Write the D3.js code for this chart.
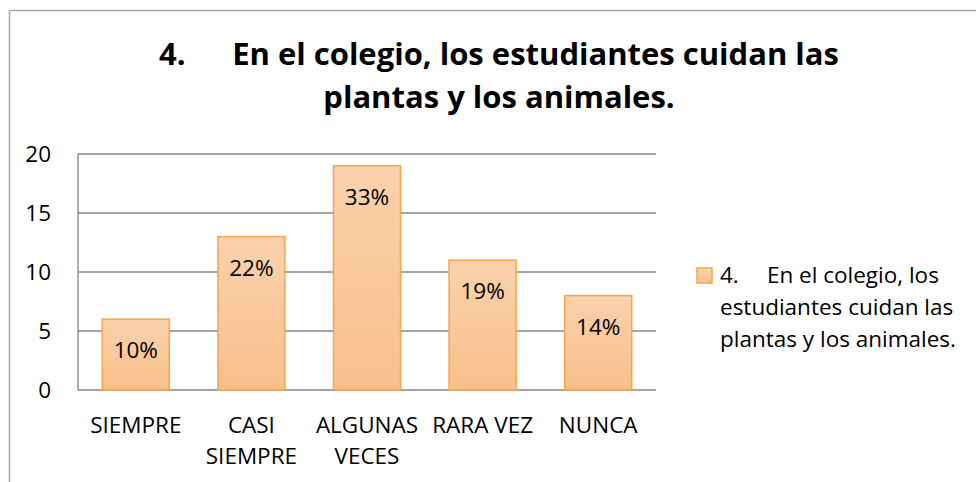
<!DOCTYPE html>
<meta charset="utf-8">
<style>
body { margin: 0; background: #fff; }
text { font-family: "Open Sans", sans-serif; fill: #000; }
.grid line { stroke: #868686; stroke-width: 1.3px; }
.bar { stroke: #f7a54c; stroke-width: 1.5px; }
</style>
<svg width="976" height="482"></svg>
<script src="https://cdn.jsdelivr.net/npm/d3@7/dist/d3.min.js"></script>
<script>

var categories = [["SIEMPRE"], ["CASI", "SIEMPRE"], ["ALGUNAS", "VECES"], ["RARA VEZ"], ["NUNCA"]];
var values = [6, 13, 19, 11, 8];
var percents = ["10%", "22%", "33%", "19%", "14%"];
var yTicks = [0, 5, 10, 15, 20];
var titleLines = ["4.\u2003\u2002En el colegio, los estudiantes cuidan las", "plantas y los animales."];
var legendLines = ["4.\u2003\u2005En el colegio, los", "estudiantes cuidan las", "plantas y los animales."];

var svg = d3.select("svg"),
    margin = {top: 154, left: 78, right: 320, bottom: 92},
    width = 976 - margin.left - margin.right,
    height = 482 - margin.top - margin.bottom;

var defs = svg.append("defs");
var grad = defs.append("linearGradient")
    .attr("id", "barfill")
    .attr("x1", 0).attr("y1", 0).attr("x2", 0).attr("y2", 1);
grad.append("stop").attr("offset", "0%").attr("stop-color", "#fad2ac");
grad.append("stop").attr("offset", "100%").attr("stop-color", "#f8bf8b");

// outer border
svg.append("rect")
    .attr("x", 9.5).attr("y", 10.5)
    .attr("width", 1000).attr("height", 500)
    .attr("fill", "none")
    .attr("stroke", "#a6a6a6")
    .attr("stroke-width", 1.5);

// title
svg.append("text")
    .attr("x", 499)
    .attr("text-anchor", "middle")
    .style("font-weight", "bold")
    .style("font-size", "31px")
    .selectAll("tspan")
    .data(titleLines)
    .enter().append("tspan")
      .attr("x", 499)
      .attr("y", function(d, i) { return 65 + i * 43; })
      .text(function(d) { return d; });

var g = svg.append("g").attr("transform", "translate(" + margin.left + "," + margin.top + ")");

var x = d3.scaleBand().domain(d3.range(values.length)).range([0, width]).paddingInner(0.42).paddingOuter(0.21),
    y = d3.scaleLinear().domain([0, 20]).range([height, 0]);

g.append("g")
    .attr("class", "grid")
    .selectAll("line")
    .data(yTicks)
    .enter().append("line")
      .attr("x1", 0).attr("x2", width)
      .attr("y1", function(d) { return y(d); })
      .attr("y2", function(d) { return y(d); });

g.append("line")
    .attr("x1", 0).attr("x2", 0)
    .attr("y1", 0).attr("y2", height)
    .attr("stroke", "#868686").attr("stroke-width", 1.3);

var yAxis = g.append("g")
    .call(d3.axisLeft(y).tickValues(yTicks).tickSize(0).tickPadding(27));
yAxis.select(".domain").remove();
yAxis.selectAll("text")
    .style("font-size", "22.5px")
    .style("font-family", "'Open Sans', sans-serif")
    .attr("fill", "#000");

g.selectAll(".bar")
    .data(values)
    .enter().append("rect")
      .attr("class", "bar")
      .attr("fill", "url(#barfill)")
      .attr("x", function(d, i) { return x(i); })
      .attr("y", function(d) { return y(d); })
      .attr("width", x.bandwidth())
      .attr("height", function(d) { return height - y(d); });

g.selectAll(".pct")
    .data(values)
    .enter().append("text")
      .attr("class", "pct")
      .attr("text-anchor", "middle")
      .style("font-size", "22.5px")
      .attr("x", function(d, i) { return x(i) + x.bandwidth() / 2; })
      .attr("y", function(d) { return y(d) + 39; })
      .text(function(d, i) { return percents[i]; });

var xLab = g.append("g").attr("transform", "translate(0," + height + ")");
xLab.selectAll("text")
    .data(categories)
    .enter().append("text")
      .attr("text-anchor", "middle")
      .style("font-size", "22.5px")
      .attr("transform", function(d, i) { return "translate(" + (x(i) + x.bandwidth() / 2) + ",0)"; })
    .selectAll("tspan")
    .data(function(d) { return d; })
    .enter().append("tspan")
      .attr("x", 0)
      .attr("y", function(d, i) { return 43 + i * 31; })
      .text(function(d) { return d; });

// legend
var legend = svg.append("g").attr("transform", "translate(697,268)");
legend.append("rect")
    .attr("width", 15).attr("height", 15)
    .attr("fill", "url(#barfill)")
    .attr("stroke", "#f7a54c").attr("stroke-width", 1.5);
legend.append("text")
    .style("font-size", "22.5px")
    .selectAll("tspan")
    .data(legendLines)
    .enter().append("tspan")
      .attr("x", 23)
      .attr("y", function(d, i) { return 15 + i * 32; })
      .text(function(d) { return d; });

</script>
